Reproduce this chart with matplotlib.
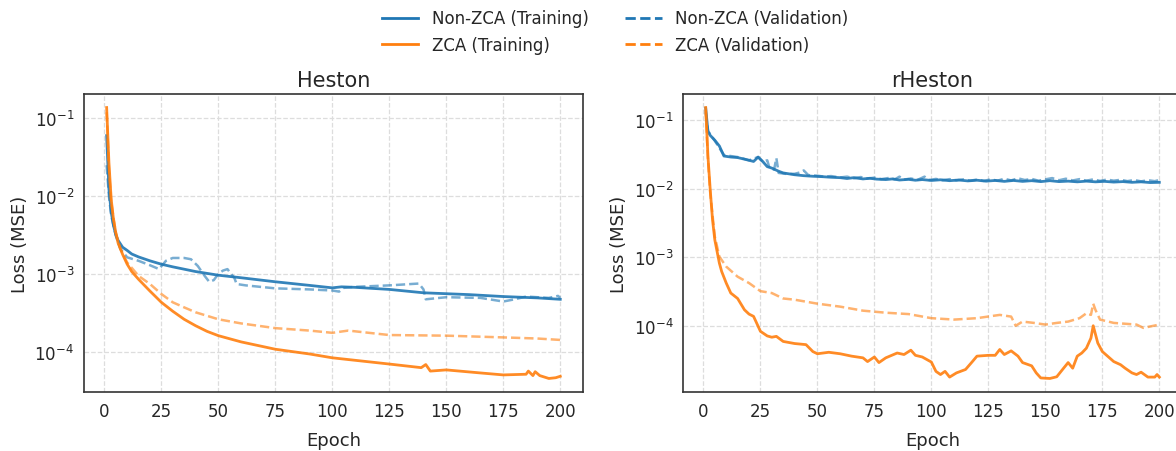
import numpy as np
import matplotlib
matplotlib.use('Agg')
import matplotlib.pyplot as plt
from matplotlib.lines import Line2D

# Heston: training / validation loss per epoch (sampled epochs)
h_nz_tr_ep = [1, 2, 3, 4, 5, 6, 8, 10, 12, 15, 20, 25, 30, 40, 50, 60, 75, 90, 100, 104, 110,
              125, 140, 160, 175, 190, 200]
h_nz_tr = [6.0e-2, 1.23e-2, 6.2e-3, 4.2e-3, 3.2e-3, 2.7e-3, 2.2e-3, 2.0e-3, 1.8e-3, 1.65e-3,
           1.47e-3, 1.33e-3, 1.23e-3, 1.07e-3, 9.6e-4, 8.9e-4, 7.9e-4, 7.1e-4, 6.6e-4, 6.8e-4,
           6.7e-4, 6.3e-4, 5.7e-4, 5.4e-4, 5.1e-4, 4.9e-4, 4.7e-4]

h_nz_va_ep = [1, 2, 3, 5, 7, 10, 15, 20, 24, 25, 27, 30, 35, 38, 41, 44, 46, 48, 50, 52, 54, 55,
              57, 58, 62, 75, 90, 100, 103, 105, 110, 125, 138, 140, 141, 150, 165, 175, 180,
              185, 195, 199, 200]
h_nz_va = [2.5e-2, 1.0e-2, 5.6e-3, 3.1e-3, 2.1e-3, 1.63e-3, 1.47e-3, 1.29e-3, 1.15e-3, 1.25e-3,
           1.47e-3, 1.6e-3, 1.6e-3, 1.54e-3, 1.26e-3, 9.4e-4, 7.9e-4, 8.3e-4, 1.0e-3, 1.1e-3,
           1.15e-3, 1.05e-3, 8.9e-4, 7.4e-4, 7.1e-4, 6.5e-4, 6.3e-4, 6.1e-4, 5.9e-4, 6.6e-4,
           6.8e-4, 7.1e-4, 7.5e-4, 6.3e-4, 4.7e-4, 5.0e-4, 4.9e-4, 4.4e-4, 4.7e-4, 5.1e-4,
           4.9e-4, 5.2e-4, 4.9e-4]

h_z_tr_ep = [1, 2, 3, 4, 5, 6, 8, 10, 12, 15, 20, 25, 30, 35, 40, 45, 50, 60, 75, 90, 100, 125,
             139, 141, 143, 150, 165, 175, 185, 186, 188, 189, 191, 195, 198, 200]
h_z_tr = [1.38e-1, 2.7e-2, 9.1e-3, 5.0e-3, 3.4e-3, 2.5e-3, 1.78e-3, 1.33e-3, 1.07e-3, 8.5e-4,
          6.0e-4, 4.3e-4, 3.3e-4, 2.6e-4, 2.15e-4, 1.82e-4, 1.6e-4, 1.33e-4, 1.07e-4, 9.3e-5,
          8.3e-5, 6.9e-5, 6.2e-5, 6.8e-5, 5.6e-5, 5.8e-5, 5.3e-5, 5.0e-5, 5.1e-5, 5.6e-5,
          4.9e-5, 5.5e-5, 4.9e-5, 4.5e-5, 4.6e-5, 4.8e-5]

h_z_va_ep = [1, 2, 3, 5, 7, 10, 15, 20, 25, 30, 35, 40, 50, 60, 75, 90, 100, 107, 125, 150, 175,
             190, 200]
h_z_va = [1.2e-1, 2.2e-2, 8.3e-3, 3.4e-3, 2.1e-3, 1.4e-3, 9.4e-4, 7.4e-4, 5.5e-4, 4.3e-4,
          3.7e-4, 3.2e-4, 2.6e-4, 2.3e-4, 2.0e-4, 1.86e-4, 1.74e-4, 1.86e-4, 1.63e-4, 1.6e-4,
          1.52e-4, 1.47e-4, 1.41e-4]

# rHeston
r_nz_tr_ep = [1, 2, 3, 5, 7, 9, 12, 15, 18, 20, 22, 24, 26, 28, 30, 33, 35,
              40, 44, 48, 52, 56, 60, 63, 66, 70, 73, 76, 80, 83, 86, 90, 93, 96, 100, 104, 108,
              112, 116, 120, 124, 128, 132, 136, 140, 144, 148, 152, 156, 160, 164, 168, 172,
              176, 180, 184, 188, 192, 196, 200]
r_nz_tr = [1.5e-1, 6.8e-2, 6.0e-2, 5.1e-2, 4.2e-2, 3.0e-2, 2.9e-2, 2.85e-2, 2.7e-2, 2.6e-2,
           2.5e-2, 2.9e-2, 2.5e-2, 2.1e-2, 2.0e-2, 1.8e-2, 1.7e-2,
           1.60e-2, 1.55e-2, 1.52e-2, 1.50e-2, 1.47e-2, 1.45e-2, 1.41e-2, 1.45e-2, 1.39e-2,
           1.42e-2, 1.38e-2, 1.36e-2, 1.39e-2, 1.34e-2, 1.37e-2, 1.33e-2, 1.36e-2, 1.32e-2,
           1.35e-2, 1.31e-2, 1.34e-2, 1.30e-2, 1.33e-2, 1.29e-2, 1.32e-2, 1.28e-2, 1.32e-2,
           1.28e-2, 1.31e-2, 1.27e-2, 1.31e-2, 1.27e-2, 1.29e-2, 1.26e-2, 1.29e-2, 1.26e-2,
           1.28e-2, 1.25e-2, 1.27e-2, 1.24e-2, 1.26e-2, 1.23e-2, 1.24e-2]

r_nz_va_ep = [1, 2, 5, 9, 15, 20, 24, 26, 28, 29, 31, 32, 33, 36,
              40, 43, 44, 46, 50, 53, 56, 60, 63, 66, 69, 72, 75, 78, 81, 84, 86, 88, 91, 94, 97,
              99, 102, 105, 108, 111, 114, 117, 120, 123, 126, 129, 132, 135, 138, 141, 144, 147,
              150, 153, 156, 159, 162, 165, 168, 171, 174, 177, 180, 183, 186, 189, 192, 195,
              198, 200]
r_nz_va = [1.3e-1, 7.0e-2, 5.0e-2, 3.1e-2, 2.9e-2, 2.6e-2, 2.9e-2, 2.47e-2, 2.6e-2, 2.0e-2,
           1.9e-2, 2.8e-2, 1.7e-2, 1.65e-2,
           1.65e-2, 1.75e-2, 1.85e-2, 1.58e-2, 1.55e-2, 1.50e-2, 1.53e-2, 1.46e-2, 1.50e-2,
           1.42e-2, 1.48e-2, 1.41e-2, 1.45e-2, 1.38e-2, 1.43e-2, 1.37e-2, 1.50e-2, 1.36e-2,
           1.41e-2, 1.35e-2, 1.50e-2, 1.34e-2, 1.39e-2, 1.33e-2, 1.38e-2, 1.32e-2, 1.37e-2,
           1.31e-2, 1.36e-2, 1.30e-2, 1.37e-2, 1.31e-2, 1.40e-2, 1.32e-2, 1.42e-2, 1.34e-2,
           1.39e-2, 1.31e-2, 1.37e-2, 1.43e-2, 1.33e-2, 1.40e-2, 1.32e-2, 1.38e-2, 1.31e-2,
           1.37e-2, 1.30e-2, 1.36e-2, 1.31e-2, 1.35e-2, 1.29e-2, 1.34e-2, 1.28e-2, 1.33e-2,
           1.29e-2, 1.34e-2]

r_z_tr_ep = [1, 2, 3, 4, 5, 7, 8, 10, 12, 15, 18, 20, 22, 25, 28, 30, 32, 35, 40, 45, 48, 50, 55,
             60, 65, 70, 72, 75, 77, 80, 85, 88, 91, 93, 96, 100, 102, 104, 106, 108, 111, 115,
             118, 120, 125, 128, 130, 132, 135, 138, 140, 144, 146, 148, 152, 155, 158, 160,
             162, 164, 166, 168, 170, 171, 173, 175, 180, 183, 185, 188, 190, 192, 195, 198,
             199, 200]
r_z_tr = [1.53e-1, 2.92e-2, 9.5e-3, 3.5e-3, 1.79e-3, 8.2e-4, 6.2e-4, 4.2e-4, 3.0e-4, 2.5e-4,
          1.71e-4, 1.48e-4, 1.37e-4, 8.3e-5, 7.1e-5, 6.8e-5, 7.0e-5, 5.9e-5, 5.5e-5, 5.3e-5,
          4.2e-5, 3.9e-5, 4.1e-5, 3.9e-5, 3.6e-5, 3.4e-5, 3.0e-5, 3.5e-5, 2.9e-5, 3.4e-5,
          4.0e-5, 3.8e-5, 4.4e-5, 3.7e-5, 3.5e-5, 2.95e-5, 2.16e-5, 1.94e-5, 2.16e-5, 1.78e-5,
          2.05e-5, 2.3e-5, 3.0e-5, 3.6e-5, 3.7e-5, 3.7e-5, 4.5e-5, 3.8e-5, 4.3e-5, 3.6e-5,
          2.9e-5, 2.6e-5, 2.05e-5, 1.73e-5, 1.7e-5, 1.8e-5, 2.4e-5, 2.9e-5, 2.4e-5, 3.6e-5,
          4.0e-5, 4.7e-5, 6.6e-5, 1.0e-4, 5.6e-5, 4.2e-5, 3.0e-5, 2.7e-5, 2.4e-5, 2.05e-5,
          1.94e-5, 2.1e-5, 1.78e-5, 1.78e-5, 1.94e-5, 1.78e-5]

r_z_va_ep = [1, 2, 3, 5, 7, 10, 15, 20, 25, 30, 35, 40, 50, 60, 70, 80, 90, 100, 110, 120, 130,
             135, 137, 140, 145, 150, 155, 160, 165, 168, 170, 171, 172, 174, 180, 190, 193, 200]
r_z_va = [1.4e-1, 2.6e-2, 8.5e-3, 2.0e-3, 1.02e-3, 7.3e-4, 5.2e-4, 4.2e-4, 3.2e-4, 3.0e-4,
          2.5e-4, 2.4e-4, 2.1e-4, 1.9e-4, 1.66e-4, 1.55e-4, 1.48e-4, 1.29e-4, 1.23e-4, 1.29e-4,
          1.44e-4, 1.36e-4, 1.0e-4, 1.15e-4, 1.1e-4, 1.04e-4, 1.1e-4, 1.15e-4, 1.29e-4, 1.52e-4,
          1.44e-4, 2.1e-4, 1.7e-4, 1.23e-4, 1.1e-4, 1.04e-4, 9.3e-5, 1.04e-4]

titles = ['Heston', 'rHeston']
series = [
    [(h_nz_tr_ep, h_nz_tr), (h_nz_va_ep, h_nz_va), (h_z_tr_ep, h_z_tr), (h_z_va_ep, h_z_va)],
    [(r_nz_tr_ep, r_nz_tr), (r_nz_va_ep, r_nz_va), (r_z_tr_ep, r_z_tr), (r_z_va_ep, r_z_va)],
]

BLUE = '#1f77b4'
ORANGE = '#ff7f0e'
TXT = '#262626'
styles = [
    dict(color=BLUE, ls='-', lw=2.0, alpha=0.9),
    dict(color=BLUE, ls='--', lw=1.8, alpha=0.6),
    dict(color=ORANGE, ls='-', lw=2.0, alpha=0.9),
    dict(color=ORANGE, ls='--', lw=1.8, alpha=0.6),
]

fig = plt.figure(figsize=(11.76, 4.52), dpi=100)
ax_pos = [[0.0714, 0.1305, 0.4243, 0.6593], [0.5808, 0.1305, 0.4243, 0.6593]]

for i in range(2):
    ax = fig.add_axes(ax_pos[i])
    for (ep, val), st in zip(series[i], styles):
        ax.plot(ep, val, **st)
    ax.set_yscale('log')
    ax.set_xticks([0, 25, 50, 75, 100, 125, 150, 175, 200])
    ax.set_title(titles[i], fontsize=15, color=TXT, pad=6)
    ax.set_xlabel('Epoch', fontsize=13, color=TXT, labelpad=8)
    ax.set_ylabel('Loss (MSE)', fontsize=13, color=TXT)
    ax.grid(True, which='major', linestyle='--', color='#dddddd', linewidth=0.9)
    ax.tick_params(axis='both', which='both', length=0, labelsize=12, labelcolor=TXT, pad=7)
    ax.minorticks_off()
    for sp in ax.spines.values():
        sp.set_color('#333333')
        sp.set_linewidth(1.2)

# legend shows full-opacity versions of the line styles
handles = [
    Line2D([], [], color=BLUE, ls='-', lw=2),
    Line2D([], [], color=ORANGE, ls='-', lw=2),
    Line2D([], [], color=BLUE, ls='--', lw=2),
    Line2D([], [], color=ORANGE, ls='--', lw=2),
]
labels = ['Non-ZCA (Training)', 'ZCA (Training)', 'Non-ZCA (Validation)', 'ZCA (Validation)']
fig.legend(handles, labels, loc='upper center', bbox_to_anchor=(0.523, 1.01), ncol=2,
           frameon=False, fontsize=12, columnspacing=2.2, handlelength=2.2,
           labelspacing=0.5, labelcolor=TXT)

fig.savefig('out.png', dpi=100)
